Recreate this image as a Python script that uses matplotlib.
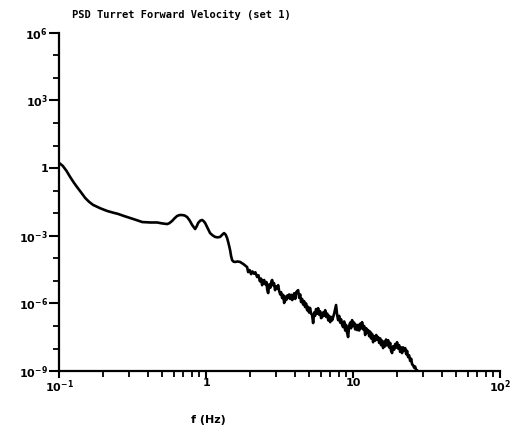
import numpy as np
import matplotlib
matplotlib.use('Agg')
import matplotlib.pyplot as plt
from matplotlib.ticker import LogLocator, FixedLocator, NullFormatter

plt.rcParams['mathtext.default'] = 'bf'

# values, as log10(f) and log10(PSD)
log_f = [-1.000, -0.975, -0.950, -0.925, -0.900, -0.878, -0.850, -0.823, -0.795, -0.769,
         -0.720, -0.673, -0.635, -0.599, -0.560, -0.517, -0.475, -0.435, -0.380, -0.333,
         -0.300, -0.265, -0.250, -0.231, -0.214, -0.197, -0.180, -0.163, -0.146, -0.129,
         -0.112, -0.095, -0.075, -0.064, -0.054, -0.040, -0.027, -0.017, -0.007, 0.010,
         0.027, 0.044, 0.061, 0.078, 0.095, 0.110, 0.122, 0.133, 0.143, 0.153,
         0.163, 0.170, 0.177, 0.187, 0.197, 0.214, 0.231, 0.255, 0.279,
         0.286, 0.296, 0.306, 0.315, 0.325, 0.335, 0.347, 0.356, 0.366, 0.374,
         0.381, 0.388, 0.395, 0.402, 0.410, 0.416, 0.422, 0.430, 0.437, 0.443,
         0.449, 0.456, 0.462, 0.469, 0.476, 0.483, 0.490, 0.497, 0.504, 0.510,
         0.517, 0.524, 0.531, 0.538, 0.545, 0.552, 0.558, 0.565, 0.572, 0.579,
         0.586, 0.592, 0.599, 0.606, 0.613, 0.620, 0.626, 0.633, 0.640, 0.646,
         0.653, 0.660, 0.667, 0.673, 0.680, 0.687, 0.694, 0.700, 0.707, 0.714,
         0.721, 0.728, 0.735, 0.741, 0.748, 0.755, 0.762, 0.769, 0.776, 0.782,
         0.789, 0.796, 0.803, 0.810, 0.817, 0.824, 0.831, 0.837, 0.844, 0.851,
         0.857, 0.864, 0.871, 0.878, 0.884, 0.891, 0.898, 0.905, 0.912, 0.918,
         0.925, 0.932, 0.939, 0.946, 0.952, 0.959, 0.966, 0.973, 0.980, 0.986,
         0.993, 1.000, 1.007, 1.014, 1.020, 1.027, 1.034, 1.041, 1.048, 1.055,
         1.061, 1.068, 1.075, 1.082, 1.089, 1.095, 1.102, 1.109, 1.116, 1.122,
         1.129, 1.136, 1.143, 1.150, 1.157, 1.163, 1.170, 1.177, 1.184, 1.190,
         1.197, 1.204, 1.211, 1.218, 1.224, 1.231, 1.238, 1.245, 1.252, 1.258,
         1.265, 1.272, 1.279, 1.286, 1.292, 1.299, 1.306, 1.313, 1.320, 1.327,
         1.333, 1.340, 1.347, 1.354, 1.361, 1.367, 1.374, 1.381, 1.388, 1.395,
         1.401, 1.408, 1.415, 1.422, 1.428, 1.435, 1.446]
log_psd = [0.23, 0.10, -0.12, -0.39, -0.64, -0.84, -1.08, -1.32, -1.50, -1.63,
           -1.78, -1.90, -1.97, -2.03, -2.12, -2.21, -2.30, -2.39, -2.41, -2.41,
           -2.45, -2.48, -2.44, -2.34, -2.22, -2.12, -2.08, -2.08, -2.10, -2.17,
           -2.32, -2.52, -2.70, -2.58, -2.43, -2.33, -2.30, -2.35, -2.43, -2.65,
           -2.88, -2.98, -3.05, -3.07, -3.05, -2.95, -2.88, -2.95, -3.10, -3.35,
           -3.63, -3.90, -4.08, -4.15, -4.16, -4.14, -4.16, -4.26, -4.39,
           -4.61, -4.52, -4.70, -4.58, -4.68, -4.62, -4.83, -4.75, -5.02, -4.90,
           -5.19, -5.00, -4.96, -5.15, -5.05, -5.40, -5.54, -5.15, -5.30, -5.05,
           -4.96, -5.20, -5.10, -5.41, -5.25, -5.35, -5.19, -5.45, -5.60, -5.50,
           -5.76, -5.62, -5.98, -5.70, -5.85, -5.65, -5.76, -5.60, -5.80, -5.62,
           -5.85, -5.70, -5.55, -5.80, -5.50, -5.45, -5.41, -5.75, -5.60, -5.94,
           -5.80, -6.05, -5.90, -6.16, -6.00, -6.30, -6.15, -6.40, -6.20, -6.45,
           -6.52, -6.87, -6.40, -6.55, -6.25, -6.45, -6.21, -6.50, -6.35, -6.65,
           -6.61, -6.40, -6.55, -6.30, -6.60, -6.45, -6.75, -6.55, -6.83, -6.60,
           -6.75, -6.61, -6.45, -6.25, -6.07, -6.50, -6.74, -6.55, -6.85, -6.70,
           -6.95, -7.05, -6.80, -7.20, -6.95, -7.30, -7.49, -7.00, -6.85, -7.10,
           -6.74, -7.00, -6.85, -7.15, -6.95, -7.18, -6.95, -7.20, -6.90, -7.10,
           -6.83, -7.15, -7.00, -7.40, -7.10, -7.30, -7.18, -7.45, -7.25, -7.55,
           -7.35, -7.72, -7.45, -7.65, -7.40, -7.60, -7.49, -7.75, -7.55, -7.85,
           -7.65, -7.98, -7.70, -7.90, -7.60, -7.85, -7.63, -7.95, -7.75, -8.10,
           -8.20, -7.90, -8.05, -7.80, -7.95, -7.72, -8.00, -7.85, -8.15, -7.95,
           -8.20, -7.95, -8.10, -7.98, -8.25, -8.10, -8.38, -8.30, -8.55, -8.45,
           -8.70, -8.74, -8.85, -8.80, -8.95, -8.96, -9.05]

f = 10.0 ** np.array(log_f)
psd = 10.0 ** np.array(log_psd)

y_major = [1e-9, 1e-6, 1e-3, 1e0, 1e3, 1e6]
y_labels = ['$10^{-9}$', '$10^{-6}$', '$10^{-3}$', '1', '$10^{3}$', '$10^{6}$']
x_major = [0.1, 1, 10, 100]
x_labels = ['$10^{-1}$', '1', '10', '$10^{2}$']

fig = plt.figure(figsize=(5.14, 4.32), dpi=100)
ax = fig.add_axes([0.115, 0.141, 0.858, 0.783])

ax.plot(f, psd, color='black', lw=1.9, solid_joinstyle='round')
ax.set_xscale('log')
ax.set_yscale('log')
ax.set_xlim(0.1, 100)
ax.set_ylim(1e-9, 1e6)

for s in ['top', 'right']:
    ax.spines[s].set_visible(False)
for s in ['left', 'bottom']:
    ax.spines[s].set_linewidth(1.6)

ax.set_xticks(x_major)
ax.set_xticklabels(x_labels, fontweight='bold')
ax.xaxis.set_minor_locator(LogLocator(base=10, subs=np.arange(2, 10)))
ax.xaxis.set_minor_formatter(NullFormatter())
ax.set_yticks(y_major)
ax.set_yticklabels(y_labels, fontweight='bold')
ax.yaxis.set_minor_locator(FixedLocator([10.0 ** k for k in range(-9, 7)]))
ax.yaxis.set_minor_formatter(NullFormatter())

ax.tick_params(which='major', length=7, width=1.5, labelsize=8, pad=1, direction='out')
ax.tick_params(which='minor', length=4, width=1.3, direction='out')
ax.tick_params(axis='x', which='major', length=5, pad=0)

ax.set_title('PSD Turret Forward Velocity (set 1)', fontsize=7.5, fontweight='bold',
             loc='left', x=0.03, y=1.02, family='DejaVu Sans Mono')
ax.set_xlabel('f (Hz)', fontsize=8, fontweight='bold')
ax.xaxis.set_label_coords(0.338, -0.13)

fig.savefig('out.png', dpi=100)
